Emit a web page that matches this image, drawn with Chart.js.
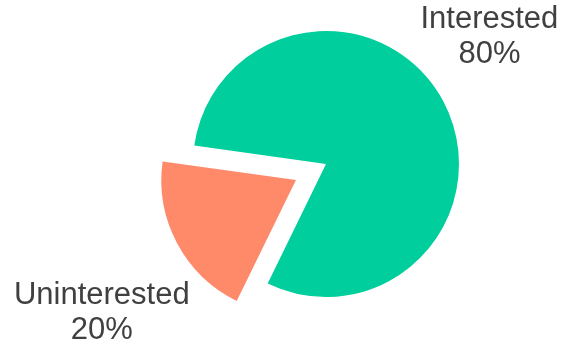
<!DOCTYPE html>
<html>
<head>
<meta charset="utf-8">
<script src="https://cdn.jsdelivr.net/npm/chart.js@4"></script>
<style>
  html, body { margin: 0; padding: 0; background: #ffffff; }
  #wrap { width: 564px; height: 343px; position: relative; }
</style>
</head>
<body>
<div id="wrap"><canvas id="interestChart"></canvas></div>
<script>
// Share of respondents
const categories = ['Interested', 'Uninterested'];
const shares = [80, 20];
const sliceColors = ['#00ce9c', '#ff8a6a'];

// Outside labels: name on top, percentage below
const outsideLabels = {
  id: 'outsideLabels',
  afterDatasetsDraw(chart, args, opts) {
    const ctx = chart.ctx;
    const meta = chart.getDatasetMeta(0);
    const total = shares.reduce((a, b) => a + b, 0);
    ctx.save();
    ctx.font = opts.font;
    ctx.fillStyle = opts.color;
    ctx.textAlign = 'center';
    ctx.textBaseline = 'alphabetic';
    meta.data.forEach((arc, i) => {
      const mid = (arc.startAngle + arc.endAngle) / 2;
      // ArcElement moves an exploded slice by offset / 4
      const off = (arc.options.offset || 0) / 4;
      const cx = arc.x + Math.cos(mid) * off;
      const cy = arc.y + Math.sin(mid) * off;
      const a = mid + opts.angleShift * Math.PI / 180;
      const d = opts.distance[i];
      const x = cx + Math.cos(a) * d;
      const y = cy + Math.sin(a) * d;
      const pct = Math.round(shares[i] / total * 100) + '%';
      ctx.fillText(categories[i], x, y - opts.lineGap / 2);
      ctx.fillText(pct, x, y + opts.lineGap / 2);
    });
    ctx.restore();
  }
};

new Chart(document.getElementById('interestChart'), {
  type: 'pie',
  data: {
    labels: categories,
    datasets: [{
      data: shares,
      backgroundColor: sliceColors,
      borderWidth: 0,
      offset: [0, 136]
    }]
  },
  options: {
    responsive: true,
    maintainAspectRatio: false,
    animation: false,
    rotation: -82,
    radius: 133,
    layout: { padding: { left: 88, right: 0, top: 0, bottom: 15 } },
    plugins: {
      legend: { display: false },
      tooltip: { enabled: false },
      outsideLabels: {
        font: '31px "Liberation Sans", Arial, sans-serif',
        color: '#404040',
        angleShift: -8,
        distance: [202, 240],
        lineGap: 35
      }
    }
  },
  plugins: [outsideLabels]
});
</script>
</body>
</html>
